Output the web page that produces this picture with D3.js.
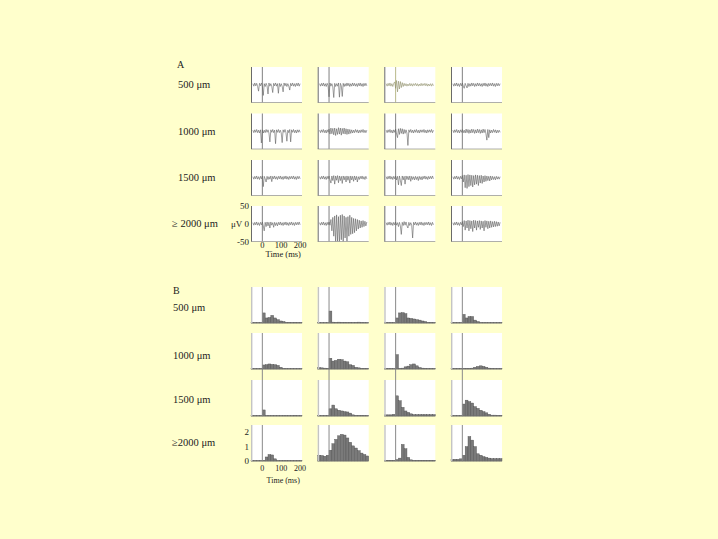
<!DOCTYPE html>
<html>
<head>
<meta charset="utf-8">
<script src="https://cdn.jsdelivr.net/npm/d3@7"></script>
<style>
  html, body { margin: 0; padding: 0; background: #ffffcc; }
  svg { display: block; }
  text { font-family: "Liberation Serif", "DejaVu Serif", serif; fill: #222; }
</style>
</head>
<body>
<svg id="fig" width="718" height="539"></svg>
<script>
// Distance groups (rows) and time window (ms)
const rowLabelsA = ["500 \u03bcm", "1000 \u03bcm", "1500 \u03bcm", "\u2265 2000 \u03bcm"];
const rowLabelsB = ["500 \u03bcm", "1000 \u03bcm", "1500 \u03bcm", "\u22652000 \u03bcm"];
const timeDomain = [-60, 210];
const timeTicks = [0, 100, 200];
const voltTicks = [50, 0, -50];
const rateTicks = [2, 1, 0];

// Voltage traces (uV), sampled every 5 ms starting at -50 ms; rows = distance, cols = cell
const traceStart = -50, traceStep = 5;
const traces500 = [
  [3,-4,5,-3,4,-5,-18,4,-3,5,-4,-30,3,-5,4,-3,-26,5,-4,3,-5,-22,4,-3,5,-4,3,-24,4,-5,3,-4,-20,5,-3,4,-5,3,-4,-15,4,-3,5,-4,3,-5,4,-3,5,-4,3],
  [3,-4,4,-3,5,-4,3,-5,4,-3,-34,5,-4,3,-6,-36,4,-5,3,-4,5,-35,4,-3,-33,4,-5,3,-4,5,-3,4,-5,3,-4,5,-3,4,-4,3,-5,4,-3,5,-4,3,-5,4,-3,4,-3],
  [3,-4,4,-3,5,-4,3,-5,4,8,-10,12,-20,10,-12,9,-8,6,-5,4,-3,3,-4,2,-3,4,-3,3,-4,3,-2,4,-3,3,-4,2,-3,4,-3,3,-2,4,-3,3,-4,2,-3,3,-4,3,-3],
  [3,-4,4,-3,5,-4,3,-5,4,-3,5,-4,-10,4,-3,-9,4,-5,3,-4,5,-3,4,-5,3,-4,5,-3,4,-4,3,-5,4,-3,5,-4,3,-5,4,-3,4,-3,5,-4,3,-5,4,-3,4,-3,3]
];
const traces1000 = [
  [3,-4,4,-3,5,-4,3,-5,4,-33,4,-5,3,-4,5,-3,4,-5,-30,4,-3,5,-4,3,-35,4,-3,5,-4,3,-5,-32,4,-3,5,-4,-28,3,-4,5,-30,4,-3,5,-4,3,-5,4,-3,4,-3],
  [3,-4,4,-3,5,-4,3,-5,4,-3,6,-8,9,-7,8,-10,9,-12,7,-9,10,-8,9,-11,8,-7,9,-8,7,-9,6,-8,5,-6,4,-5,3,-4,5,-3,4,-5,3,-4,4,-3,5,-4,3,-4,3],
  [3,-4,4,-3,5,-4,3,-5,4,-3,6,-8,-18,7,-9,8,-6,7,-8,5,-6,4,-5,-40,4,-3,5,-4,3,-5,4,-3,5,-4,3,-5,4,-3,4,-3,5,-4,3,-5,4,-3,4,-3,5,-4,3],
  [3,-4,4,-3,5,-4,3,-5,4,-3,5,-4,3,-5,6,-4,5,-6,4,-5,6,-4,5,-6,4,-5,6,-4,5,-6,4,-5,6,-4,5,-7,-25,5,-18,4,-5,3,-4,5,-3,4,-5,3,-4,3,-3]
];
const traces1500 = [
  [3,-4,4,-3,5,-4,3,-5,4,-3,5,-25,4,-3,-12,4,-5,3,-4,5,-11,4,-3,5,-4,3,-5,4,-3,5,-4,3,-5,4,-3,5,-4,3,-5,4,-3,4,-3,5,-4,3,-5,4,-3,4,-3],
  [3,-4,4,-3,5,-4,3,-5,4,-3,5,-6,-15,5,-8,6,-18,5,-7,6,-14,5,-8,4,-16,5,-6,4,-12,5,-7,4,-15,5,-6,4,-10,5,-6,4,-12,3,-5,4,-3,5,-4,3,-5,4,-3],
  [3,-4,4,-3,5,-4,3,-5,4,-3,5,-6,4,-20,5,-7,-22,5,-6,4,-18,5,-5,4,-6,5,-10,4,-5,3,-6,4,-5,3,-8,4,-5,3,-6,4,-3,5,-4,3,-5,4,-3,4,-3,5,-3],
  [3,-4,4,-3,5,-4,3,-5,4,-3,6,-12,8,-28,7,-30,9,-25,8,-22,7,-26,6,-20,8,-18,7,-22,6,-15,7,-16,5,-12,6,-10,5,-8,4,-9,5,-6,4,-5,3,-6,4,-4,3,-4,3]
];
const traces2000 = [
  [3,-4,4,-3,5,-4,3,-5,4,-3,5,-6,-20,4,-8,5,-6,4,-12,5,-4,3,-10,4,-5,3,-6,4,-3,5,-4,3,-5,4,-3,5,-4,3,-5,4,-3,5,-4,3,-5,4,-3,4,-3,5,-3],
  [3,-4,4,-3,5,-4,3,-5,4,-3,5,-4,12,-20,18,-35,22,-55,25,-50,20,-55,24,-45,26,-55,22,-40,18,-50,20,-35,24,-30,18,-28,15,-25,14,-20,12,-15,10,-12,8,-10,9,-8,7,-6,5],
  [3,-4,4,-3,5,-4,3,-5,4,-3,5,-4,3,-8,4,-6,-30,4,-5,6,-4,5,-6,-12,4,-5,3,-4,-40,4,-3,5,-4,3,-5,4,-3,5,-4,3,-5,4,-3,4,-3,5,-4,3,-5,4,-3],
  [3,-4,4,-3,5,-4,3,-5,4,-3,6,-8,9,-18,8,-12,10,-20,9,-14,8,-22,10,-12,9,-18,8,-10,9,-16,8,-12,7,-20,9,-10,8,-14,7,-12,8,-10,6,-9,7,-8,6,-7,5,-6,4]
];
const tracesA = [traces500, traces1000, traces1500, traces2000];

// Peri-stimulus rate histograms, 15 ms bins starting at -60 ms
const binStart = -60, binWidth = 15;
const hist500 = [
  [0.03,0.03,0.03,0.03,0.7,0.35,0.38,0.53,0.35,0.23,0.14,0.1,0.05,0.05,0.04,0.05,0.04,0.04],
  [0.02,0.02,0.02,0.02,0.83,0.06,0.05,0.06,0.05,0.05,0.04,0.05,0.04,0.05,0.06,0.04,0.03,0.03],
  [0.03,0.03,0.03,0.03,0.35,0.7,0.72,0.65,0.35,0.32,0.28,0.23,0.2,0.14,0.1,0.05,0.05,0.04],
  [0.03,0.03,0.03,0.03,0.6,0.35,0.45,0.45,0.2,0.1,0.04,0.03,0.03,0.03,0.03,0.03,0.03,0.03]
];
const hist1000 = [
  [0.03,0.03,0.03,0.03,0.28,0.3,0.35,0.32,0.3,0.25,0.12,0.04,0.03,0.03,0.03,0.03,0.03,0.03],
  [0.1,0.08,0.06,0.05,0.75,0.55,0.6,0.68,0.65,0.55,0.5,0.3,0.25,0.12,0.08,0.05,0.05,0.05],
  [0.03,0.03,0.03,0.03,1.0,0.05,0.06,0.15,0.2,0.3,0.35,0.22,0.1,0.06,0.05,0.04,0.04,0.04],
  [0.04,0.04,0.04,0.04,0.05,0.05,0.05,0.06,0.12,0.18,0.22,0.18,0.12,0.06,0.05,0.04,0.04,0.04]
];
const hist1500 = [
  [0.03,0.03,0.03,0.03,0.42,0.03,0.03,0.03,0.03,0.03,0.03,0.03,0.03,0.03,0.03,0.05,0.03,0.03],
  [0.03,0.03,0.03,0.03,0.5,0.76,0.5,0.4,0.35,0.3,0.28,0.2,0.08,0.05,0.05,0.05,0.04,0.04],
  [0.08,0.08,0.08,0.12,1.4,1.06,0.6,0.35,0.25,0.15,0.1,0.1,0.1,0.1,0.1,0.1,0.1,0.1],
  [0.03,0.03,0.03,0.03,0.83,1.1,1.0,0.9,0.65,0.53,0.4,0.3,0.22,0.12,0.06,0.06,0.05,0.05]
];
const hist2000 = [
  [0.03,0.03,0.03,0.03,0.05,0.28,0.45,0.42,0.15,0.03,0.03,0.03,0.03,0.03,0.03,0.03,0.03,0.03],
  [0.4,0.38,0.33,0.4,0.75,1.2,1.5,1.75,1.85,1.8,1.6,1.3,1.05,0.9,0.72,0.55,0.45,0.35],
  [0.05,0.05,0.05,0.05,0.1,0.2,1.15,0.85,0.25,0.08,0.05,0.05,0.05,0.05,0.05,0.05,0.05,0.05],
  [0.1,0.12,0.12,0.15,0.4,1.0,1.7,1.45,1.0,0.5,0.4,0.3,0.25,0.2,0.17,0.17,0.17,0.17]
];
const histB = [hist500, hist1000, hist1500, hist2000];

const svg = d3.select("#fig");

// panel grid geometry
const colLeft = [251, 317.7, 384.3, 451];
const panelW = 51;
const rowTopA = [67, 113.5, 160, 206];
const panelHA = 35.5;
const rowTopB = [287, 333, 380, 425];
const panelHB = 36;
const rowLabelYB = [311, 359, 403, 446];

const x = d3.scaleLinear().domain(timeDomain).range([0, panelW]);
const yA = d3.scaleLinear().domain([-50, 50]).range([panelHA, 0]);
const yB = d3.scaleLinear().domain([0, 2.5]).range([panelHB, 0]);

// section letters and row labels
svg.append("text").attr("x", 177).attr("y", 68).attr("font-size", 10).text("A");
svg.append("text").attr("x", 173).attr("y", 294).attr("font-size", 10).text("B");
const rowLabelAx = [178, 178, 178, 172];
rowLabelsA.forEach((t, r) => {
  svg.append("text").attr("x", rowLabelAx[r]).attr("y", rowTopA[r] + panelHA / 2 + 3.5)
    .attr("font-size", 10.5).text(t);
});
rowLabelsB.forEach((t, r) => {
  svg.append("text").attr("x", r === 3 ? 172 : 173).attr("y", rowLabelYB[r])
    .attr("font-size", 10.5).text(t);
});

// ---- A: voltage traces ----
const line = d3.line()
  .x((d, i) => x(traceStart + i * traceStep))
  .y(d => yA(d));

tracesA.forEach((row, r) => {
  row.forEach((vals, c) => {
    const olive = (r === 0 && c === 2);
    const g = svg.append("g").attr("transform", `translate(${colLeft[c]},${rowTopA[r]})`);
    const cid = `clipA${r}${c}`;
    g.append("clipPath").attr("id", cid).append("rect")
      .attr("width", panelW).attr("height", panelHA);
    g.append("rect").attr("width", panelW).attr("height", panelHA).attr("fill", "#fff");
    g.append("line").attr("x1", x(0)).attr("x2", x(0)).attr("y1", 0).attr("y2", panelHA)
      .attr("stroke", olive ? "#b9b98a" : "#808080").attr("stroke-width", 1);
    g.append("path").datum(vals).attr("d", line).attr("clip-path", `url(#${cid})`)
      .attr("fill", "none").attr("stroke", olive ? "#8f8f6a" : "#606060").attr("stroke-width", 0.6);
    g.append("line").attr("x1", 0).attr("x2", panelW).attr("y1", panelHA).attr("y2", panelHA)
      .attr("stroke", "#9a9a9a").attr("stroke-width", 0.8);
    g.append("line").attr("x1", 0.5).attr("x2", 0.5).attr("y1", 0).attr("y2", panelHA)
      .attr("stroke", "#6a6a6a").attr("stroke-width", 1);
  });
});

// A axes on bottom-left panel
{
  const g = svg.append("g").attr("transform", `translate(${colLeft[0]},${rowTopA[3]})`);
  voltTicks.forEach(v => {
    g.append("text").attr("x", -2).attr("y", yA(v) + 3).attr("text-anchor", "end")
      .attr("font-size", 9).text(v);
  });
  g.append("text").attr("x", -20).attr("y", yA(0) + 3).attr("font-size", 9).text("\u03bcV");
  timeTicks.forEach(t => {
    g.append("text").attr("x", x(t)).attr("y", panelHA + 6.5).attr("text-anchor", "middle")
      .attr("font-size", 8.5).text(t);
  });
  g.append("text").attr("x", x(100) + 2).attr("y", panelHA + 15.5).attr("text-anchor", "middle")
    .attr("font-size", 8.5).text("Time (ms)");
}

// ---- B: histograms ----
histB.forEach((row, r) => {
  row.forEach((vals, c) => {
    const g = svg.append("g").attr("transform", `translate(${colLeft[c]},${rowTopB[r]})`);
    g.append("rect").attr("width", panelW).attr("height", panelHB).attr("fill", "#fff");
    g.selectAll("rect.bar").data(vals).join("rect").attr("class", "bar")
      .attr("x", (d, i) => x(binStart + i * binWidth))
      .attr("width", x(binStart + binWidth) - x(binStart))
      .attr("y", d => yB(d))
      .attr("height", d => panelHB - yB(d))
      .attr("fill", "#7a7a7a").attr("stroke", "#4e4e4e").attr("stroke-width", 0.4);
    const extend = r === 1 ? rowTopB[2] - rowTopB[1] : 0;
    g.append("line").attr("x1", x(0)).attr("x2", x(0)).attr("y1", 0).attr("y2", panelHB + extend)
      .attr("stroke", "#8a8a8a").attr("stroke-width", 1);
    g.append("line").attr("x1", 0).attr("x2", panelW).attr("y1", panelHB).attr("y2", panelHB)
      .attr("stroke", "#777").attr("stroke-width", 0.8);
    g.append("line").attr("x1", 0.7).attr("x2", 0.7).attr("y1", 0).attr("y2", panelHB)
      .attr("stroke", "#c4c4c4").attr("stroke-width", 1.4);
  });
});

// B axes on bottom-left panel
{
  const g = svg.append("g").attr("transform", `translate(${colLeft[0]},${rowTopB[3]})`);
  rateTicks.forEach(v => {
    g.append("text").attr("x", -2).attr("y", yB(v) + 3).attr("text-anchor", "end")
      .attr("font-size", 9).text(v);
  });
  timeTicks.forEach(t => {
    g.append("text").attr("x", x(t)).attr("y", panelHB + 10).attr("text-anchor", "middle")
      .attr("font-size", 8).text(t);
  });
  g.append("text").attr("x", x(100) + 2).attr("y", panelHB + 22).attr("text-anchor", "middle")
    .attr("font-size", 8).text("Time (ms)");
}
</script>
</body>
</html>
